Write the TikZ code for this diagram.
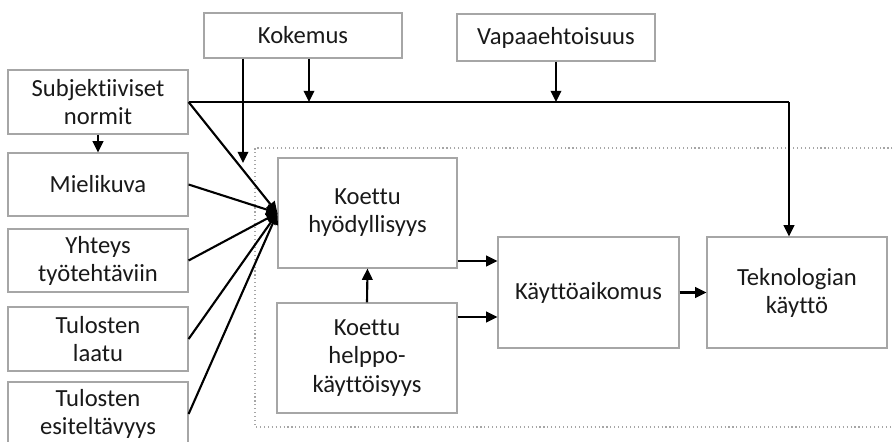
\documentclass[tikz,border=0pt]{standalone}
\usepackage{fontspec}
\setmainfont{Carlito}[Ligatures=NoCommon]
\usetikzlibrary{arrows.meta}

\begin{document}
\begin{tikzpicture}[x=0.025cm, y=-0.025cm,
  box/.style={draw=gray!70, line width=0.8pt, fill=white, inner sep=0pt, align=center,
    text=black!90, font=\fontsize{17.5}{20}\selectfont},
  arr/.style={line width=1.5pt, -{Triangle[length=8pt,width=7.5pt]}},
  ln/.style={line width=1.5pt}]
\useasboundingbox (0,0) rectangle (894,441);
\clip (0,0) rectangle (894,441);
% dotted frame round the core model
\draw[gray!70, dotted, line width=0.8pt] (920,148) -- (255,148) -- (255,427) -- (920,427);
% boxes
\node[box, minimum width=4.95cm, minimum height=1.125cm] (kok) at (303,35.5) {Kokemus};
\node[box, minimum width=4.95cm, minimum height=1.175cm] (vap) at (556,37.5) {Vapaaehtoisuus};
\node[box, minimum width=4.5cm, minimum height=1.6cm] (subj) at (98,102) {Subjektiiviset\\normit};
\node[box, minimum width=4.5cm, minimum height=1.575cm] (miel) at (98,184.5) {Mielikuva};
\node[box, minimum width=4.5cm, minimum height=1.575cm] (yht) at (98,260.5) {Yhteys\\työtehtäviin};
\node[box, minimum width=4.5cm, minimum height=1.6cm] (laatu) at (98,339) {Tulosten\\laatu};
\node[box, minimum width=4.5cm, minimum height=1.6cm] (esit) at (98,414) {Tulosten\\esiteltävyys};
\node[box, minimum width=4.475cm, minimum height=2.75cm] (hyod) at (367.5,213) {Koettu\\hyödyllisyys};
\node[box, minimum width=4.5cm, minimum height=2.75cm] (helppo) at (367,358) {Koettu\\helppo-\\käyttöisyys};
\node[box, minimum width=4.525cm, minimum height=2.775cm] (aik) at (588.5,292.5) {Käyttöaikomus};
\node[box, minimum width=4.5cm, minimum height=2.775cm] (tek) at (797,292.5) {Teknologian\\käyttö};
\coordinate (k1) at (243,163);
\coordinate (j1) at (309,102);
\coordinate (corner) at (789,102);
% connectors
\draw[ln] (subj.east) -- (corner);
\draw[arr] (corner) -- (corner |- tek.north);
\draw[arr] (k1 |- kok.south) -- (k1);
\draw[arr] (j1 |- kok.south) -- (j1);
\draw[arr] (vap.south) -- (vap.south |- subj.east);
\draw[arr] (subj.south) -- (miel.north);
\foreach \n in {subj, miel, yht, laatu, esit}
  \draw[arr] (\n.east) -- (hyod.west);
\draw[arr] (helppo.north) -- (hyod.south);
\draw[arr] (hyod.east |- 0,261) -- (aik.west |- 0,261);
\draw[arr] (helppo.east |- 0,317) -- (aik.west |- 0,317);
\draw[arr] (aik.east) -- (tek.west);
\end{tikzpicture}
\end{document}
